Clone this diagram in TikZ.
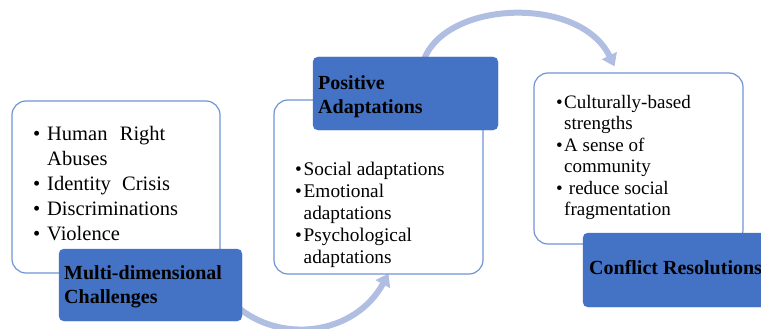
\documentclass[tikz,border=0pt]{standalone}
\usepackage{fontspec}
\setmainfont{Liberation Serif}
\usetikzlibrary{arrows.meta,calc}
\definecolor{dblue}{HTML}{4472C4}
\definecolor{lblue}{HTML}{6F94D6}
\definecolor{arrowc}{HTML}{B0BEE2}
\pgfdeclarelayer{background}
\pgfsetlayers{background,main}
\tikzset{
  wbox/.style={draw=lblue, line width=1.2pt, fill=white, rounded corners=14pt, inner sep=0pt},
  tbox/.style={draw=dblue, fill=dblue, rounded corners=5pt, inner sep=0pt},
  ttext/.style={anchor=north west, align=left, inner sep=0pt, font=\bfseries\fontsize{20}{24}\selectfont, text=black},
  btext/.style={anchor=north west, align=left, inner sep=0pt, text=black},
  flow/.style={draw=arrowc, line width=6pt, -{Triangle[length=12pt,width=16pt]}}
}
\newcommand{\bul}[1]{\makebox[#1][l]{\textbullet}}
\begin{document}
\begin{tikzpicture}[x=1pt,y=-1pt]
\useasboundingbox (0,0) rectangle (761,329);
% white boxes
\node[wbox, minimum width=208pt, minimum height=172pt] (w1) at (116,187) {};
\node[wbox, minimum width=209pt, minimum height=174pt] (w2) at (378.5,187) {};
\node[wbox, minimum width=209pt, minimum height=171pt] (w3) at (638.5,158.5) {};
% list texts
\node[btext, font=\fontsize{20.5}{25}\selectfont] (l1) at (33,126)
 {\bul{14pt}Human\hspace{0.35em} Right\\
  \hspace*{14pt}Abuses\\
  \bul{14pt}Identity\hspace{0.3em} Crisis\\
  \bul{14pt}Discriminations\\
  \bul{14pt}Violence};
\node[btext, font=\fontsize{19.3}{22}\selectfont] (l2) at (295,162)
 {\bul{8.5pt}Social adaptations\\
  \bul{8.5pt}Emotional\\
  \hspace*{8.5pt}adaptations\\
  \bul{8.5pt}Psychological\\
  \hspace*{8.5pt}adaptations};
\node[btext, font=\fontsize{19}{21.5}\selectfont] (l3) at (556,95)
 {\bul{8pt}Culturally-based\\
  \hspace*{8pt}strengths\\
  \bul{8pt}A sense of\\
  \hspace*{8pt}community\\
  \bul{8pt} reduce social\\
  \hspace*{8pt}fragmentation};
% title boxes
\node[tbox, minimum width=183pt, minimum height=72pt] (t1) at (150.5,285) {};
\node[tbox, minimum width=185pt, minimum height=73pt] (t2) at (405.5,93.5) {};
\node[tbox, minimum width=184pt, minimum height=74pt] (t3) at (675,270) {};
\node[ttext] (h1) at (64,265) {Multi-dimensional\\Challenges};
\node[ttext] (h2) at (318,75) {Positive\\Adaptations};
\node[ttext] (h3) at (589,260) {Conflict Resolutions};
% arrows
\begin{pgfonlayer}{background}
\draw[flow] ($(t1.east)+(-7,20)$) .. controls (280,345) and (355,335) .. ($(w2.south)+(10,-1)$);
\draw[flow] ($(t2.north)+(18,4)$) .. controls (445,0) and (580,-5) .. ($(w3.north)+(-24,-6)$);
\end{pgfonlayer}
\end{tikzpicture}
\end{document}
